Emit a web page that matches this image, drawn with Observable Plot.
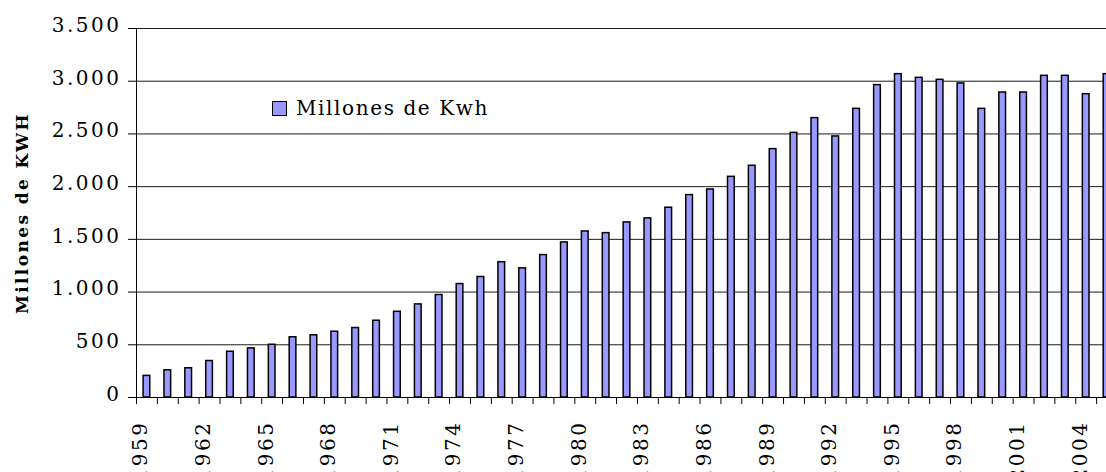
<!DOCTYPE html>
<html>
<head>
<meta charset="utf-8">
<script src="https://cdn.jsdelivr.net/npm/d3@7"></script>
<script src="https://cdn.jsdelivr.net/npm/@observablehq/plot@0.6"></script>
<style>
  html, body { margin: 0; padding: 0; overflow: hidden; background: #fff; }
  #wrap { position: relative; width: 1117px; height: 472px; }
  #legend { position: absolute; left: 272px; top: 96px; display: flex; align-items: center;
            font-family: "DejaVu Serif", serif; font-size: 20px; letter-spacing: 1.6px; color: #000; }
  #legend .sw { width: 13px; height: 13px; background: #9999ff; border: 1.5px solid #000; margin-right: 9px; }
  [aria-label="y-axis label"] text { font-weight: bold; font-size: 17px !important; letter-spacing: 2.4px; }
  [aria-label="y-axis tick label"] text, [aria-label="x-axis tick label"] text { font-size: 20px !important; letter-spacing: 2.5px; }
</style>
</head>
<body>
<div id="wrap">
  <div id="chart"></div>
  <div id="legend"><span class="sw"></span><span id="legendText"></span></div>
</div>
<script>
const years = [1959,1960,1961,1962,1963,1964,1965,1966,1967,1968,1969,1970,1971,1972,1973,1974,1975,1976,1977,1978,1979,1980,1981,1982,1983,1984,1985,1986,1987,1988,1989,1990,1991,1992,1993,1994,1995,1996,1997,1998,1999,2000,2001,2002,2003,2004,2005];
const values = [205,258,277,346,434,466,500,571,590,624,659,728,813,883,972,1076,1143,1283,1225,1351,1471,1575,1559,1661,1699,1800,1920,1973,2093,2198,2356,2510,2650,2476,2738,2963,3067,3032,3013,2979,2738,2893,2893,3051,3051,2877,3067];
const yTicks = [0,500,1000,1500,2000,2500,3000,3500];
const yearLabels = [1959,1962,1965,1968,1971,1974,1977,1980,1983,1986,1989,1992,1995,1998,2001,2004];
const seriesName = "Millones de Kwh";
const yTitle = "Millones de KWH";

const data = years.map((y, i) => ({year: y, value: values[i]}));
const boundaries = [...years.map(y => y - 0.5), years[years.length - 1] + 0.5];
const fmt = d => d3.format(",")(d).replace(/,/g, ".");

document.getElementById("legendText").textContent = seriesName;

const chart = Plot.plot({
  width: 1117,
  height: 472,
  marginLeft: 136,
  marginRight: 0,
  marginTop: 28,
  marginBottom: 75,
  x: {type: "linear", domain: [years[0] - 0.5, years[years.length - 1] + 0.5]},
  y: {domain: [0, 3500]},
  style: {fontFamily: "DejaVu Serif, serif", color: "#000", background: "#fff", overflow: "visible"},
  marks: [
    Plot.ruleY(yTicks, {stroke: "#000", strokeWidth: 1, strokeOpacity: 0.9}),
    Plot.rectY(data, {x1: d => d.year - 0.16, x2: d => d.year + 0.16, y: "value", fill: "#9999ff", stroke: "#000", strokeWidth: 1.5}),
    Plot.ruleX([years[0] - 0.5], {stroke: "#000", strokeWidth: 1}),
    Plot.ruleY([0], {stroke: "#000", strokeWidth: 1}),
    Plot.axisY({ticks: yTicks, tickSize: 8, tickFormat: () => "", label: null}),
    Plot.axisY({ticks: yTicks, tickSize: 0, tickPadding: 15, tickFormat: fmt, dy: -3, label: null}),
    Plot.axisY({ticks: [], label: yTitle, labelAnchor: "center", labelArrow: "none", labelOffset: 121}),
    Plot.axisX({ticks: boundaries, tickSize: 7, tickFormat: () => "", label: null}),
    Plot.axisX({ticks: yearLabels, tickSize: 0, tickPadding: 23, tickRotate: -90, dx: -6, tickFormat: d => String(d), label: null})
  ]
});
document.getElementById("chart").appendChild(chart);
</script>
</body>
</html>
